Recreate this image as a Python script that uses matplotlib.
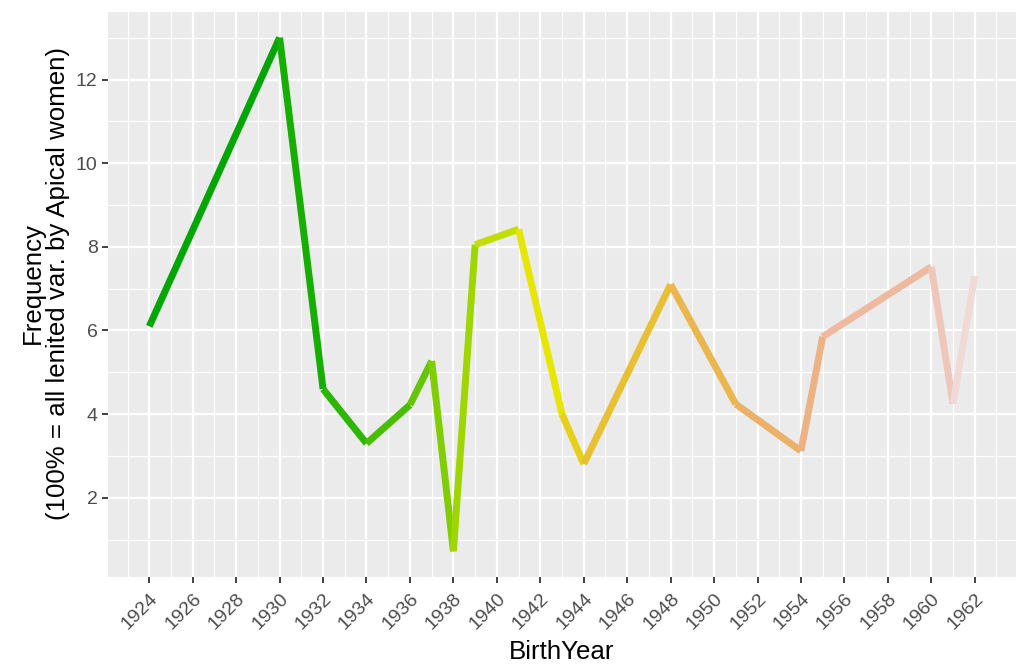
import colorsys
import numpy as np
import matplotlib
matplotlib.use("Agg")
import matplotlib.pyplot as plt
from matplotlib.collections import LineCollection
from matplotlib.ticker import MultipleLocator

plt.rcParams['font.family'] = ['Liberation Sans', 'DejaVu Sans']

birth_year = [1924, 1930, 1932, 1934, 1936, 1937, 1938, 1939, 1941, 1943,
              1944, 1948, 1951, 1954, 1955, 1960, 1961, 1962]
frequency = [6.1, 13.0, 4.6, 3.3, 4.22, 5.27, 0.72, 8.05, 8.42, 4.0,
             2.81, 7.1, 4.24, 3.12, 5.85, 7.52, 4.25, 7.3]
x_ticks = list(range(1924, 1963, 2))
y_ticks = [2, 4, 6, 8, 10, 12]


def terrain_colors(n):
    k = n // 2
    cols = []
    h1 = np.linspace(4 / 12, 2 / 12, k)
    s1 = np.linspace(1, 1, k)
    v1 = np.linspace(0.65, 0.9, k)
    for h, s, v in zip(h1, s1, v1):
        cols.append(colorsys.hsv_to_rgb(h, s, v))
    m = n - k + 1
    h2 = np.linspace(2 / 12, 0, m)[1:]
    s2 = np.linspace(1, 0, m)[1:]
    v2 = np.linspace(0.9, 0.95, m)[1:]
    for h, s, v in zip(h2, s2, v2):
        cols.append(colorsys.hsv_to_rgb(h, s, v))
    return cols


W, H = 1019, 666
fig = plt.figure(figsize=(W / 100, H / 100), dpi=100)
ax = fig.add_axes([108 / W, 1 - 577 / H, 908 / W, 565 / H])
ax.set_facecolor('#EBEBEB')

cols = terrain_colors(len(birth_year))
pts = np.column_stack([birth_year, frequency])
segs = [pts[i:i + 2] for i in range(len(pts) - 1)]
lc = LineCollection(segs, colors=cols[:-1], linewidths=5.0, capstyle='butt',
                    joinstyle='round', zorder=3)
ax.add_collection(lc)

xr = max(birth_year) - min(birth_year)
yr = max(frequency) - min(frequency)
ax.set_xlim(min(birth_year) - 0.05 * xr, max(birth_year) + 0.05 * xr)
ax.set_ylim(min(frequency) - 0.05 * yr, max(frequency) + 0.05 * yr)

ax.set_xticks(x_ticks)
ax.set_xticklabels([str(t) for t in x_ticks], rotation=45, ha='right',
                   va='top', rotation_mode='anchor')
ax.set_yticks(y_ticks)
ax.set_yticklabels([str(t) for t in y_ticks])
ax.xaxis.set_minor_locator(MultipleLocator(1))
ax.yaxis.set_minor_locator(MultipleLocator(1))
ax.set_axisbelow(True)
ax.grid(which='major', color='white', linewidth=1.6)
ax.grid(which='minor', color='white', linewidth=0.8)
ax.tick_params(which='major', length=4.5, width=1.3, color='#333333',
               labelsize=14, labelcolor='#4D4D4D', pad=3)
ax.tick_params(axis='x', which='major', pad=5)
ax.tick_params(which='minor', length=0)
for s in ax.spines.values():
    s.set_visible(False)

ax.set_xlabel('BirthYear', fontsize=18.6, color='black', labelpad=5)
ax.set_ylabel('Frequency\n(100% = all lenited var. by Apical women)',
              fontsize=18.6, color='black', linespacing=1.08)
ax.yaxis.set_label_coords((70 - 108) / 908, (577 - 283) / 565)

fig.savefig('out.png', dpi=100, facecolor='white')
